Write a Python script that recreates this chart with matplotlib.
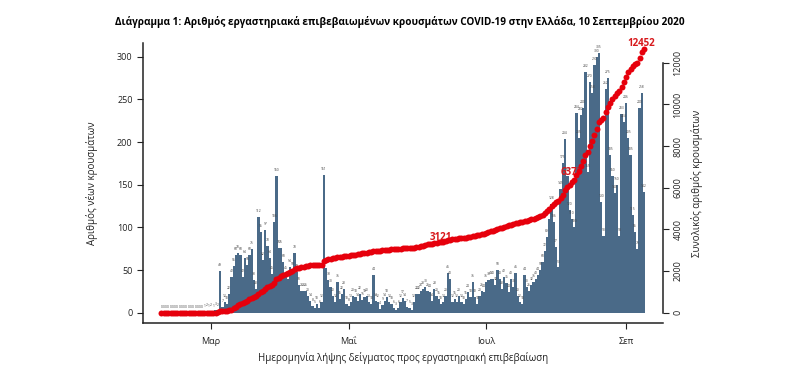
import matplotlib
matplotlib.use("Agg")
import matplotlib.pyplot as plt
import numpy as np

plt.rcParams['font.family'] = ['Open Sans', 'DejaVu Sans']

# ημερήσια κρούσματα, 8 Φεβ - 9 Σεπ 2020 (ανάγνωση από το διάγραμμα)
feb = [0, 0, 0, 0, 0, 0, 0, 0, 0, 0, 0, 0, 0, 0, 0, 0, 0, 0, 0, 1, 2, 1]
mar = [2, 1, 3, 2, 49, 7, 12, 10, 22, 42, 55, 68, 70, 68, 42, 64, 56, 68, 75,
       38, 28, 112, 95, 62, 97, 78, 64, 45, 106, 160, 76]
apr = [76, 60, 45, 40, 54, 50, 70, 48, 33, 26, 26, 26, 20, 14, 8, 5, 10, 6,
       12, 161, 52, 38, 30, 20, 12, 36, 16, 22, 28, 10]
may = [8, 13, 20, 18, 14, 22, 15, 18, 20, 13, 10, 44, 14, 12, 4, 9, 14, 18,
       12, 10, 6, 3, 6, 12, 17, 14, 7, 5, 3, 12, 22]
jun = [22, 26, 28, 30, 26, 24, 14, 28, 20, 16, 10, 12, 20, 46, 40, 12, 16, 12,
       20, 12, 10, 16, 24, 18, 36, 18, 10, 20, 26, 24]
jul = [36, 38, 40, 40, 32, 50, 40, 28, 42, 35, 24, 40, 30, 46, 20, 12, 10, 44,
       30, 26, 32, 36, 40, 44, 50, 60, 72, 89, 110, 128, 106]
aug = [77, 53, 145, 175, 204, 160, 120, 110, 100, 234, 205, 232, 240, 282,
       165, 270, 258, 290, 300, 305, 130, 90, 262, 275, 185, 160, 140, 150,
       90, 233, 224]
sep = [246, 205, 185, 115, 95, 75, 240, 258, 142]

daily = np.array(feb + mar + apr + may + jun + jul + aug + sep)
days = np.arange(len(daily))
cum = np.cumsum(daily)

month_pos = [22, 83, 144, 206]
month_lbl = ["Μαρ", "Μαΐ", "Ιουλ", "Σεπ"]

# ετικέτες αθροιστικής καμπύλης
cum_lbl = ["3121", "6373", "12452"]
cum_lbl_x = [124, 182, 212.7]
cum_lbl_y = [3590, 6750, 12900]

BAR = "#4a6a88"
RED = "#e6000c"

fig = plt.figure(figsize=(8, 3.74), dpi=100)
ax = fig.add_axes([143 / 800, 51 / 374, 520 / 800, 280 / 374])

ax.bar(days, daily, width=1.0, color=BAR, linewidth=0, zorder=2)
for d, v in zip(days, daily):
    ax.text(d, v + 7, str(v), fontsize=2.4, color="#444444",
            ha="center", va="center", zorder=3)

ax.set_xlim(-8.2, 222.4)
ax.set_ylim(-12.1, 316.2)
ax.set_yticks(range(0, 301, 50))
ax.set_xticks(month_pos)
ax.set_xticklabels(month_lbl)
ax.tick_params(axis="both", labelsize=6.5, length=4, width=0.8,
               color="#222222", labelcolor="#222222")
ax.tick_params(axis="x", pad=6)
for s in ["top", "right"]:
    ax.spines[s].set_visible(False)
for s in ["left", "bottom"]:
    ax.spines[s].set_linewidth(1.1)
    ax.spines[s].set_color("#222222")

ax2 = ax.twinx()
ax2.set_ylim(-494, 12946)
for x, y, t in zip(cum_lbl_x, cum_lbl_y, cum_lbl):
    ax2.text(x, y, t, color="#d7191c", fontsize=7, fontweight="bold",
             ha="center", va="center", zorder=1)
ax2.plot(days, cum, "o", ms=4.3, color=RED, markeredgewidth=0, zorder=3)
ax2.set_yticks(range(0, 12001, 2000))
ax2.tick_params(axis="y", labelsize=6.5, length=4, width=0.8,
                color="#222222", labelcolor="#222222", labelrotation=90)
for lab in ax2.get_yticklabels():
    lab.set_va("center")
for s in ["top", "left", "bottom"]:
    ax2.spines[s].set_visible(False)
ax2.spines["right"].set_bounds(0, 12000)
ax2.spines["right"].set_linewidth(1.1)
ax2.spines["right"].set_color("#222222")

fig.text(92 / 800, 1 - 183 / 374, "Αριθμός νέων κρουσμάτων", rotation=90,
         fontsize=7, ha="center", va="center", color="#222222")
fig.text(697 / 800, 1 - 183 / 374, "Συνολικός αριθμός κρουσμάτων",
         rotation=90, fontsize=7, ha="center", va="center", color="#222222")
fig.text(403 / 800, 1 - 358 / 374,
         "Ημερομηνία λήψης δείγματος προς εργαστηριακή επιβεβαίωση",
         fontsize=7, ha="center", va="center", color="#222222")
fig.text(400 / 800, 1 - 22 / 374,
         "Διάγραμμα 1: Αριθμός εργαστηριακά επιβεβαιωμένων κρουσμάτων "
         "COVID-19 στην Ελλάδα, 10 Σεπτεμβρίου 2020",
         fontsize=7.2, fontweight="bold", ha="center", va="center")

fig.savefig("out.png", dpi=100)
